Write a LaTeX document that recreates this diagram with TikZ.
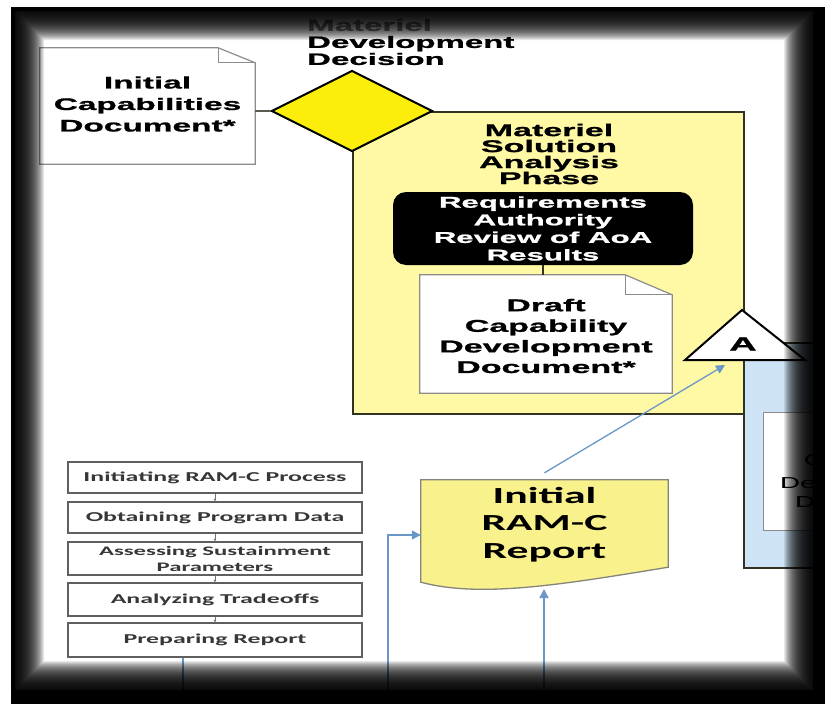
\documentclass[tikz,border=0pt]{standalone}
\usepackage{fontspec}
\usetikzlibrary{shapes.geometric,arrows.meta}
\newfontfamily\arf[FakeStretch=2.0,FakeBold=1.2]{Liberation Sans}
\newfontfamily\cbf[FakeStretch=1.9]{Carlito}
\definecolor{diay}{RGB}{250,238,10}
\definecolor{boxy}{RGB}{255,249,165}
\definecolor{ramy}{RGB}{249,241,140}
\definecolor{lblue}{RGB}{206,228,246}
\definecolor{flowb}{RGB}{105,152,200}
\definecolor{docg}{RGB}{140,140,140}
\definecolor{edge}{RGB}{50,50,35}
\definecolor{proc}{RGB}{55,55,55}
\begin{document}
\begin{tikzpicture}[x=1pt,y=-1pt,
  docbox/.style={inner sep=0pt},
  doctext/.style={inner sep=0pt, align=center, font=\arf\bfseries\fontsize{16.7pt}{21.5pt}\selectfont},
  procbox/.style={draw=proc!80, line width=1.3pt, minimum width=294pt, inner sep=0pt, align=center, text=proc,
     font=\cbf\bfseries\fontsize{13.6pt}{16pt}\selectfont},
  flow/.style={draw=flowb, line width=1.6pt},
  flowarr/.style={flow, -{Triangle[length=9pt,width=9pt]}},
  tiny/.style={draw=proc!70, line width=0.6pt, -{Triangle[length=2.5pt,width=2.5pt]}}
]
\useasboundingbox (0,0) rectangle (825,704);
\clip (0,0) rectangle (825,704);
\fill[white] (0,0) rectangle (825,704);

% Materiel Solution Analysis phase box
\node[draw=edge, line width=2pt, fill=boxy, minimum width=391pt, minimum height=302pt, anchor=north west, inner sep=0pt] (msa) at (352,111) {};
\node[inner sep=0pt, align=center, font=\arf\bfseries\fontsize{17pt}{16pt}\selectfont] (msatext) at (549,154) {Materiel\\Solution\\Analysis\\Phase};

% blue phase box (cut by frame)
\node[draw=edge, line width=1.8pt, fill=lblue, minimum width=130pt, minimum height=225pt, anchor=north west, inner sep=0pt] (blue) at (743,342) {};
\node[draw=docg, line width=1.2pt, fill=white, minimum width=110pt, minimum height=118pt, anchor=north west, inner sep=0pt] (bluedoc) at (763,412) {};
\node[anchor=west, inner sep=0pt, font=\cbf\fontsize{17pt}{20pt}\selectfont] (frag1) at (804,460) {C};
\node[anchor=west, inner sep=0pt, font=\cbf\fontsize{17pt}{20pt}\selectfont] (frag2) at (780,483) {De};
\node[anchor=west, inner sep=0pt, font=\cbf\fontsize{17pt}{20pt}\selectfont] (frag3) at (795,502) {D};

% Materiel Development Decision diamond
\node[diamond, draw=black, line width=2pt, fill=diay, minimum width=161pt, minimum height=81pt, inner sep=0pt, aspect=2] (mdd) at (352,111) {};
\node[anchor=west, align=left, inner sep=0pt, font=\arf\bfseries\fontsize{16.5pt}{17pt}\selectfont] (mddlbl) at (307,42) {\textcolor{black!50}{Materiel}\\Development\\Decision};

% Initial Capabilities Document
\node[docbox, minimum width=215pt, minimum height=116pt] (icd) at (147.5,106) {};
\draw[draw=docg, line width=1.2pt, fill=white] (icd.north west) -- ([xshift=-37pt]icd.north east) -- ([yshift=-15pt]icd.north east) -- (icd.south east) -- (icd.south west) -- cycle;
\draw[draw=docg, line width=1.2pt] ([xshift=-37pt]icd.north east) -- ([xshift=-37pt,yshift=-15pt]icd.north east) -- ([yshift=-15pt]icd.north east);
\node[doctext] (icdtext) at (147.5,104) {Initial\\Capabilities\\Document*};
\draw[draw=edge!80, line width=1.3pt] (mdd.west) -- (mdd.west -| icd.east);

% Requirements Authority Review
\node[fill=black, rounded corners=13pt, minimum width=300pt, minimum height=73pt, inner sep=0pt, align=center, text=white,
  font=\arf\bfseries\fontsize{15.6pt}{17.6pt}\selectfont] (rar) at (543,228.5) {Requirements\\Authority\\Review of AoA\\Results};

% Draft CDD
\node[docbox, minimum width=252pt, minimum height=118pt] (cdd) at (546,334) {};
\draw[draw=docg, line width=1.2pt, fill=white] (cdd.north west) -- ([xshift=-47pt]cdd.north east) -- ([yshift=-20pt]cdd.north east) -- (cdd.south east) -- (cdd.south west) -- cycle;
\draw[draw=docg, line width=1.2pt] ([xshift=-47pt]cdd.north east) -- ([xshift=-47pt,yshift=-20pt]cdd.north east) -- ([yshift=-20pt]cdd.north east);
\node[doctext, font=\arf\bfseries\fontsize{17pt}{20.6pt}\selectfont] (cddtext) at (546,336) {Draft\\Capability\\Development\\Document*};
\draw[draw=edge, line width=1.5pt] (rar.south) -- (rar.south |- cdd.north);

% Milestone A triangle
\coordinate (tl) at (685,360);
\coordinate (tr) at (805,360);
\coordinate (tt) at (742,310);
\draw[draw=black, line width=2pt, fill=white, line join=miter] (tl) -- (tt) -- (tr) -- cycle;
\node[inner sep=0pt, font=\arf\bfseries\fontsize{19pt}{20pt}\selectfont] (msA) at (743,344) {A};
\coordinate (Atip) at (725,365);

% Initial RAM-C Report
\node[docbox, minimum width=247pt, minimum height=102pt] (ram) at (544.5,531) {};
\draw[draw=edge!60, line width=1.3pt, fill=ramy] (ram.north west) -- (ram.north east) -- ([yshift=15pt]ram.south east)
   .. controls (560,585) and (480,598) .. (ram.south west) -- cycle;
\node[inner sep=0pt, align=center, font=\cbf\bfseries\fontsize{23pt}{27.5pt}\selectfont] (ramtext) at (544.5,524.5) {Initial\\RAM-C\\Report};

% RAM-C process steps
\node[procbox, minimum height=31pt] (p1) at (215,477.5) {Initiating RAM-C Process};
\node[procbox, minimum height=31pt] (p2) at (215,517.5) {Obtaining Program Data};
\node[procbox, minimum height=33pt, font=\cbf\bfseries\fontsize{13pt}{16pt}\selectfont] (p3) at (215,558.5) {Assessing Sustainment\\Parameters};
\node[procbox, minimum height=33pt] (p4) at (215,599.5) {Analyzing Tradeoffs};
\node[procbox, minimum height=34pt] (p5) at (215,640) {Preparing Report};
\draw[tiny] (p1.south) -- (p2.north);
\draw[tiny] (p2.south) -- (p3.north);
\draw[tiny] (p3.south) -- (p4.north);
\draw[tiny] (p4.south) -- (p5.north);

% flow arrows
\coordinate (j1) at (183,693);
\coordinate (j2) at (388,693);
\coordinate (j3) at (388,535);
\draw[flowarr] ([xshift=-32pt]p5.south) -- (j1) -- (j2) -- (j3) -- (j3 -| ram.west);
\coordinate (b2) at (544,710);
\coordinate (ramb) at (544,589);
\draw[flowarr] (b2) -- (ramb);
\draw[flowarr, line width=1.3pt] ([yshift=7pt]ram.north) -- (Atip);

% vignette frame
\fill[black, even odd rule] (11,7) rectangle (830,710) (15,11) rectangle (813,690);
\foreach \d in {0,...,29} {
  \fill[black, opacity=0.09, even odd rule] (11,7) rectangle (830,710) (15+\d,11+\d) rectangle (813-\d,690-\d);
}
\end{tikzpicture}
\end{document}
